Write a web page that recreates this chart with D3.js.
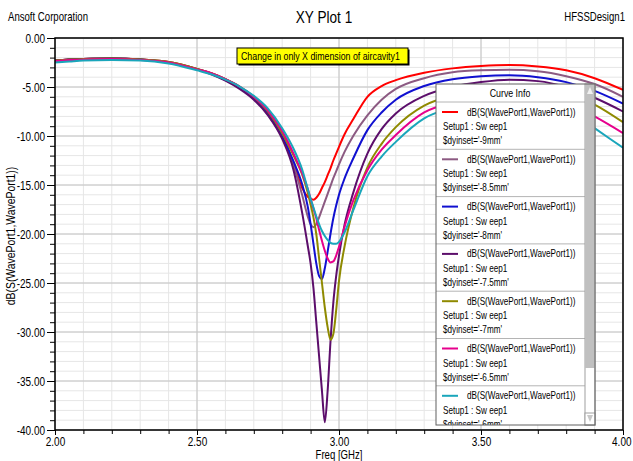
<!DOCTYPE html>
<html>
<head>
<meta charset="utf-8">
<script src="https://cdn.jsdelivr.net/npm/d3@7"></script>
<style>
  body { margin: 0; background: #fff; }
  text { font-family: "Liberation Sans", Arial, sans-serif; fill: #000; }
</style>
</head>
<body>
<div id="chart"></div>
<script>
// frequency samples [GHz]
const freqs = [2.00, 2.05, 2.10, 2.20, 2.30, 2.40, 2.50, 2.55, 2.60, 2.65, 2.70,
  2.75, 2.80, 2.84, 2.87, 2.89, 2.90, 2.91, 2.92, 2.93, 2.94, 2.95, 2.96, 2.97, 2.98, 2.99,
  3.00, 3.02, 3.05, 3.10, 3.15, 3.20, 3.30, 3.40, 3.50, 3.60, 3.70, 3.80, 3.90, 4.00];

// dB(S(WavePort1,WavePort1)) per $dyinset
const dy9mm = [-2.3, -2.2, -2.15, -2.1, -2.2, -2.45, -3.15, -3.6, -4.2, -5.0, -6.1,
  -7.6, -9.8, -12.8, -15.3, -16.2, -16.4, -16.5, -16.3, -15.9, -15.3, -14.7, -14.0, -13.3, -12.5, -11.8,
  -11.1, -9.8, -8.3, -6.0, -4.9, -4.3, -3.55, -3.1, -2.85, -2.75, -2.9, -3.3, -4.1, -5.3];
const dy85mm = [-2.3, -2.2, -2.15, -2.1, -2.2, -2.45, -3.15, -3.6, -4.2, -5.0, -6.1,
  -7.7, -10.0, -13.0, -16.0, -18.2, -19.0, -19.3, -19.0, -18.3, -17.5, -16.7, -15.9, -15.1, -14.3, -13.6,
  -12.9, -11.6, -10.0, -7.9, -6.3, -5.2, -4.1, -3.5, -3.3, -3.25, -3.4, -3.9, -4.7, -6.0];
const dy8mm = [-2.3, -2.2, -2.15, -2.1, -2.2, -2.5, -3.2, -3.65, -4.3, -5.1, -6.2,
  -7.8, -10.1, -12.6, -14.9, -17.2, -19.0, -21.0, -23.0, -24.3, -24.6, -23.5, -21.8, -20.0, -18.4, -17.1,
  -16.0, -14.3, -12.3, -9.4, -7.6, -6.3, -4.9, -4.2, -3.9, -3.8, -4.0, -4.5, -5.4, -6.7];
const dy75mm = [-2.3, -2.2, -2.15, -2.1, -2.2, -2.5, -3.2, -3.7, -4.35, -5.2, -6.3,
  -7.9, -10.3, -13.5, -17.8, -21.2, -23.0, -25.5, -29.0, -32.5, -36.0, -39.2, -36.0, -31.0, -27.0, -24.3,
  -22.2, -19.0, -15.8, -11.8, -9.3, -7.7, -5.9, -5.0, -4.5, -4.25, -4.4, -5.0, -6.1, -7.5];
const dy7mm = [-2.3, -2.2, -2.15, -2.1, -2.2, -2.45, -3.15, -3.6, -4.2, -4.95, -6.0,
  -7.5, -9.7, -12.0, -13.9, -15.8, -17.0, -18.3, -20.0, -22.5, -25.0, -27.5, -29.5, -30.8, -30.2, -27.8,
  -24.8, -21.2, -17.4, -13.2, -10.8, -9.1, -6.9, -5.9, -5.3, -5.0, -5.1, -5.6, -6.8, -8.6];
const dy65mm = [-2.35, -2.25, -2.2, -2.15, -2.25, -2.5, -3.2, -3.6, -4.2, -4.95, -6.0,
  -7.4, -9.5, -11.8, -13.8, -15.4, -16.4, -17.4, -18.4, -19.6, -20.7, -21.7, -22.5, -22.9, -22.8, -22.2,
  -21.3, -19.2, -16.6, -13.5, -11.4, -9.9, -7.6, -6.6, -6.0, -5.7, -5.8, -6.5, -8.0, -9.7];
const dy6mm = [-2.5, -2.4, -2.3, -2.25, -2.3, -2.6, -3.3, -3.7, -4.25, -4.95, -5.9,
  -7.2, -9.2, -11.3, -13.4, -15.4, -16.4, -17.3, -18.2, -19.0, -19.7, -20.2, -20.6, -20.9, -21.0, -21.0,
  -20.8, -19.8, -17.6, -14.1, -12.1, -10.6, -8.2, -7.1, -6.5, -6.2, -6.4, -7.2, -9.2, -11.2];

const seriesValues = [dy9mm, dy85mm, dy8mm, dy75mm, dy7mm, dy65mm, dy6mm];
const seriesParams = ["$dyinset='-9mm'", "$dyinset='-8.5mm'", "$dyinset='-8mm'", "$dyinset='-7.5mm'",
  "$dyinset='-7mm'", "$dyinset='-6.5mm'", "$dyinset='-6mm'"];
const seriesColors = ["#ff0000", "#8c5a82", "#1010d0", "#5c0e6b", "#8f8a00", "#e6008c", "#1aa6bb"];
const xTicks = [2.0, 2.5, 3.0, 3.5, 4.0];
const yTicks = [0, -5, -10, -15, -20, -25, -30, -35, -40];

const W = 633, H = 461;
const plot = {left: 55, right: 623, top: 38, bottom: 430};

const svg = d3.select("#chart").append("svg")
  .attr("width", W).attr("height", H);

svg.append("rect").attr("width", W).attr("height", H).attr("fill", "#fff");

const x = d3.scaleLinear().domain([2, 4]).range([plot.left, plot.right]);
const y = d3.scaleLinear().domain([-40, 0]).range([plot.bottom, plot.top]);

// header texts
svg.append("text").attr("x", 8).attr("y", 21).style("font-size", "12px").text("Ansoft Corporation");
svg.append("text").attr("x", 324).attr("y", 23).attr("text-anchor", "middle").style("font-size", "17px").text("XY Plot 1");
svg.append("text").attr("x", 625).attr("y", 21).attr("text-anchor", "end").style("font-size", "12px").text("HFSSDesign1");

// grid
const grid = svg.append("g");
grid.selectAll(".vminor").data(x.ticks(20)).join("line")
  .attr("x1", d => x(d)).attr("x2", d => x(d)).attr("y1", plot.top).attr("y2", plot.bottom)
  .attr("stroke", "#e6e6e6").attr("stroke-width", 1);
grid.selectAll(".hminor").data(y.ticks(40)).join("line")
  .attr("y1", d => y(d)).attr("y2", d => y(d)).attr("x1", plot.left).attr("x2", plot.right)
  .attr("stroke", "#e6e6e6").attr("stroke-width", 1);
grid.selectAll(".vmajor").data(xTicks).join("line")
  .attr("x1", d => x(d)).attr("x2", d => x(d)).attr("y1", plot.top).attr("y2", plot.bottom)
  .attr("stroke", "#c4c4c4").attr("stroke-width", 1);
grid.selectAll(".hmajor").data(yTicks).join("line")
  .attr("y1", d => y(d)).attr("y2", d => y(d)).attr("x1", plot.left).attr("x2", plot.right)
  .attr("stroke", "#c4c4c4").attr("stroke-width", 1);

// curves
svg.append("clipPath").attr("id", "plotClip").append("rect")
  .attr("x", plot.left).attr("y", plot.top)
  .attr("width", plot.right - plot.left).attr("height", plot.bottom - plot.top);

const line = d3.line()
  .x(d => x(d[0]))
  .y(d => y(d[1]))
  .curve(d3.curveMonotoneX);

svg.append("g").attr("clip-path", "url(#plotClip)")
  .selectAll("path").data(seriesValues).join("path")
  .attr("d", vals => line(freqs.map((f, i) => [f, vals[i]])))
  .attr("fill", "none")
  .attr("stroke", (d, i) => seriesColors[i])
  .attr("stroke-width", 2);

// axes
const fmt = d => d.toFixed(2);
const yMinor = svg.append("g").attr("transform", `translate(${plot.left},0)`)
  .call(d3.axisLeft(y).ticks(40).tickSize(5).tickFormat(""));
yMinor.select(".domain").remove();
const yAxis = svg.append("g").attr("transform", `translate(${plot.left},0)`)
  .call(d3.axisLeft(y).tickValues(yTicks).tickSize(8).tickPadding(2).tickFormat(fmt));
yAxis.select(".domain").remove();
yAxis.selectAll("text").style("font-size", "12.5px").attr("font-family", null);

const xMinor = svg.append("g").attr("transform", `translate(0,${plot.bottom})`)
  .call(d3.axisBottom(x).ticks(20).tickSize(4).tickFormat(""));
xMinor.select(".domain").remove();
const xAxis = svg.append("g").attr("transform", `translate(0,${plot.bottom})`)
  .call(d3.axisBottom(x).tickValues(xTicks).tickSize(5).tickPadding(2).tickFormat(fmt));
xAxis.select(".domain").remove();
xAxis.selectAll("text").style("font-size", "12.5px").attr("font-family", null);
xAxis.selectAll(".tick:last-of-type text").attr("text-anchor", "end").attr("x", 8);
svg.selectAll(".tick line").attr("stroke", "#000");

// frame
svg.append("rect")
  .attr("x", plot.left).attr("y", plot.top)
  .attr("width", plot.right - plot.left).attr("height", plot.bottom - plot.top)
  .attr("fill", "none").attr("stroke", "#000").attr("stroke-width", 1.5);

svg.append("text").attr("x", x(3)).attr("y", 459).attr("text-anchor", "middle")
  .style("font-size", "12px").text("Freq [GHz]");
svg.append("text").attr("transform", `translate(15,${(plot.top + plot.bottom) / 2 + 2}) rotate(-90)`)
  .attr("text-anchor", "middle").style("font-size", "13px").text("dB(S(WavePort1,WavePort1))");

// note box
const note = svg.append("g").attr("transform", "translate(237,48)");
note.append("rect").attr("x", 1.5).attr("y", 1.5).attr("width", 171).attr("height", 16).attr("fill", "#000");
note.append("rect").attr("width", 171).attr("height", 16).attr("fill", "#ffff00")
  .attr("stroke", "#000").attr("stroke-width", 1);
note.append("text").attr("x", 4).attr("y", 12).style("font-size", "11px")
  .text("Change in only X dimension of aircavity1");

// legend
const lg = svg.append("g").attr("transform", "translate(436,84)");
const lgW = 159, lgH = 341, rowH = 47.3, headH = 18;
lg.append("clipPath").attr("id", "lgClip").append("rect").attr("width", lgW).attr("height", lgH);
lg.append("rect").attr("width", lgW).attr("height", lgH).attr("fill", "#fff");
const body = lg.append("g").attr("clip-path", "url(#lgClip)");
body.append("text").attr("x", 74).attr("y", 13).attr("text-anchor", "middle")
  .style("font-size", "11px").text("Curve Info");
body.append("line").attr("x1", 0).attr("x2", 149).attr("y1", headH).attr("y2", headH)
  .attr("stroke", "#b4b4b4");

const rows = body.selectAll(".row").data(seriesParams).join("g")
  .attr("transform", (d, i) => `translate(0,${headH + i * rowH})`);
rows.append("line").attr("x1", 6).attr("x2", 22).attr("y1", 10).attr("y2", 10)
  .attr("stroke", (d, i) => seriesColors[i]).attr("stroke-width", 2);
rows.append("text").attr("x", 31).attr("y", 13.5).style("font-size", "10.2px").text("dB(S(WavePort1,WavePort1))");
rows.append("text").attr("x", 7).attr("y", 28).style("font-size", "10.2px").text("Setup1 : Sw eep1");
rows.append("text").attr("x", 7).attr("y", 42).style("font-size", "10.2px").text(d => d);
rows.append("line").attr("x1", 0).attr("x2", 149).attr("y1", rowH).attr("y2", rowH)
  .attr("stroke", "#b4b4b4");

// scrollbar
const sb = lg.append("g").attr("transform", "translate(149,0)");
sb.append("rect").attr("width", 10).attr("height", lgH).attr("fill", "#fff").attr("stroke", "#a0a0a0");
sb.append("rect").attr("y", 0).attr("width", 10).attr("height", 284).attr("fill", "#c0c0c0");
sb.append("path").attr("d", "M2,10 L5,3 L8,10 Z").attr("fill", "#f0f0f0");
sb.append("rect").attr("y", lgH - 12).attr("width", 10).attr("height", 12).attr("fill", "#fff").attr("stroke", "#a0a0a0");
sb.append("path").attr("d", `M2,${lgH - 10} L5,${lgH - 3} L8,${lgH - 10} Z`).attr("fill", "#c8c8c8");

lg.append("rect").attr("width", lgW).attr("height", lgH).attr("fill", "none").attr("stroke", "#606060");

// the original uses a condensed face: squeeze every label horizontally around its anchor
svg.selectAll("text").each(function() {
  const t = d3.select(this);
  const tx = +t.attr("x") || 0, ty = +t.attr("y") || 0;
  const base = t.attr("transform") || "";
  t.attr("x", 0).attr("y", 0)
    .attr("transform", `${base} translate(${tx},${ty}) scale(0.8,1)`);
});
</script>
</body>
</html>
